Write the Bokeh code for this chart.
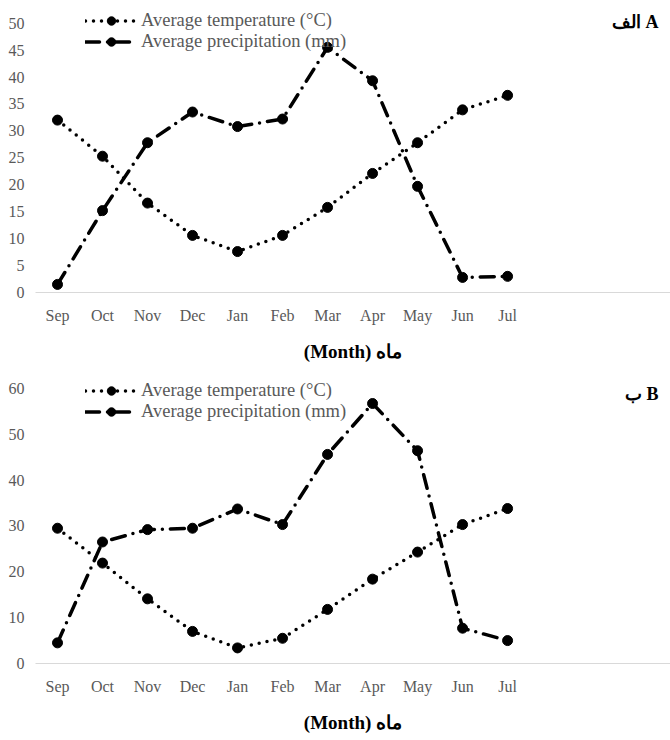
from bokeh.plotting import figure
from bokeh.models import Legend, LegendItem, Label, FixedTicker
from bokeh.layouts import column
from bokeh.embed import file_html
from bokeh.resources import INLINE

months = ["Sep", "Oct", "Nov", "Dec", "Jan", "Feb", "Mar", "Apr", "May", "Jun", "Jul"]

temp_a = [32.0, 25.3, 16.6, 10.6, 7.6, 10.6, 15.8, 22.1, 27.8, 33.9, 36.6]
prec_a = [1.5, 15.2, 27.8, 33.5, 30.8, 32.2, 45.5, 39.3, 19.7, 2.8, 3.0]

temp_b = [29.5, 21.9, 14.1, 7.0, 3.4, 5.5, 11.8, 18.4, 24.3, 30.3, 33.8]
prec_b = [4.5, 26.5, 29.2, 29.5, 33.7, 30.3, 45.6, 56.7, 46.4, 7.7, 5.0]

ticks_a = list(range(0, 51, 5))
ticks_b = list(range(0, 61, 10))

FONT = "Liberation Serif"
GRAY = "#595959"
LRM = "\u200e"


def make_panel(temp, prec, yticks, y_end, frame_h, bottom, title, title_y, legend_top):
    xs = list(range(len(months)))
    p = figure(frame_width=635, frame_height=frame_h,
               x_range=(-0.489, 13.62), y_range=(0, y_end),
               output_backend="svg", toolbar_location=None,
               min_border_left=35, min_border_right=0, min_border_top=0,
               min_border_bottom=bottom)
    p.outline_line_color = None
    p.xgrid.visible = False
    p.ygrid.visible = False

    lt = p.line(xs, temp, line_color="black", line_width=3.5, line_dash="0 8",
                line_cap="round")
    lp = p.line(xs, prec, line_color="black", line_width=3.5, line_dash="14 8 0 8",
                line_cap="round")
    st = p.scatter(xs, temp, marker="circle", size=10, fill_color="black", line_color="black")
    sp = p.scatter(xs, prec, marker="circle", size=10, fill_color="black", line_color="black")

    # x axis
    xa = p.xaxis[0]
    xa.ticker = FixedTicker(ticks=xs)
    xa.major_label_overrides = {i: m for i, m in enumerate(months)}
    xa.axis_line_color = "#d9d9d9"
    xa.axis_line_width = 1
    xa.major_tick_line_color = None
    xa.minor_tick_line_color = None
    xa.major_label_standoff = 8
    xa.major_label_text_font = FONT
    xa.major_label_text_font_size = "16px"
    xa.major_label_text_color = GRAY
    xa.axis_label = "(Month) ماه"
    xa.axis_label_text_font = FONT
    xa.axis_label_text_font_style = "bold"
    xa.axis_label_text_font_size = "19px"
    xa.axis_label_text_color = "black"
    xa.axis_label_standoff = 14

    # y axis
    ya = p.yaxis[0]
    ya.ticker = FixedTicker(ticks=yticks)
    ya.axis_line_color = None
    ya.major_tick_line_color = None
    ya.minor_tick_line_color = None
    ya.major_label_standoff = 5
    ya.major_label_text_font = FONT
    ya.major_label_text_font_size = "16px"
    ya.major_label_text_color = GRAY

    legend = Legend(items=[
        LegendItem(label="Average temperature (°C)", renderers=[lt, st]),
        LegendItem(label="Average precipitation (mm)", renderers=[lp, sp]),
    ], location=(50, frame_h - legend_top - 42))
    legend.label_text_font = FONT
    legend.label_text_font_size = "18.5px"
    legend.label_text_color = GRAY
    legend.glyph_width = 52
    legend.glyph_height = 21
    legend.label_height = 21
    legend.spacing = 0
    legend.padding = 0
    legend.margin = 0
    legend.label_standoff = 4
    legend.border_line_color = None
    legend.background_fill_alpha = 0
    p.add_layout(legend)

    p.add_layout(Label(x=13.356, y=title_y, text=LRM + title, text_align="right",
                       text_baseline="middle", text_font=FONT, text_font_style="bold",
                       text_font_size="18px", text_color="black"))
    return p


pa = make_panel(temp_a, prec_a, ticks_a, 54.2, 292, 78, "الف A", 50.12, 10)
pb = make_panel(temp_b, prec_b, ticks_b, 63.9, 293, 77, "ب B", 58.88, 10)

layout = column(pa, pb, spacing=0)
open("out.html", "w").write(file_html(layout, INLINE))
